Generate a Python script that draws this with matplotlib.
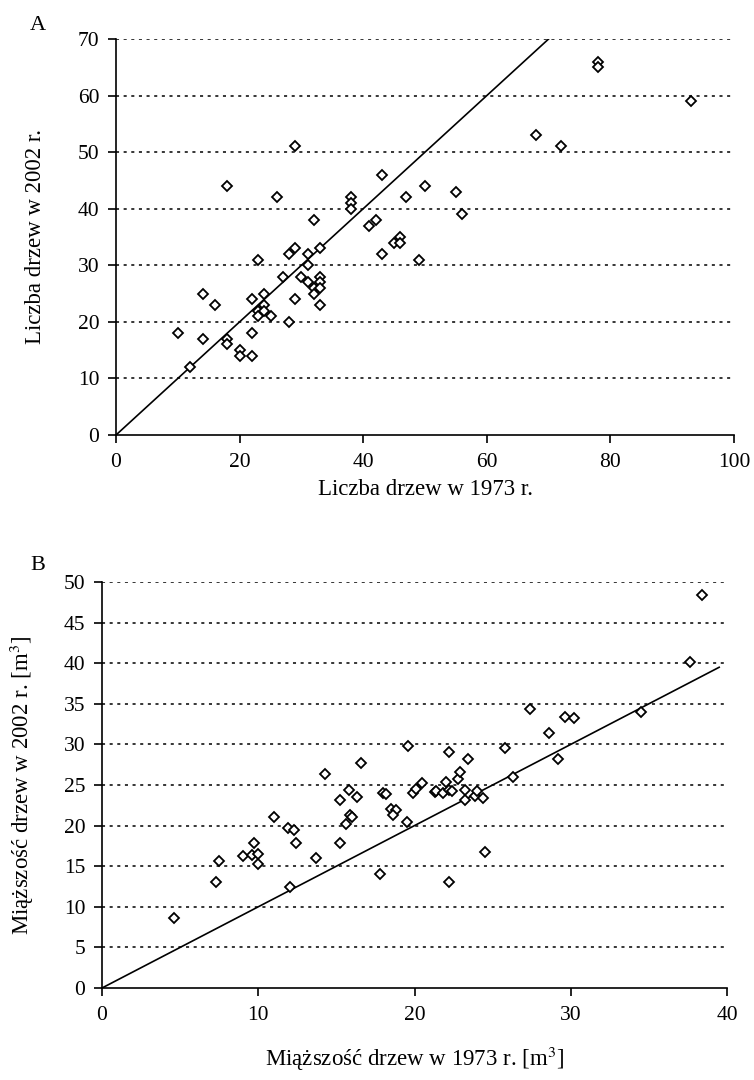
import matplotlib.pyplot as plt

plt.rcParams['font.family'] = ['Liberation Serif', 'DejaVu Serif']
plt.rcParams['mathtext.fontset'] = 'stix'

# Panel A: number of trees
a_1973 = [10, 12, 14, 14, 16, 18, 18, 18, 20, 20, 22, 22, 22, 23, 23, 23, 24, 24, 24, 25,
          26, 27, 28, 28, 29, 29, 29, 30, 31, 31, 31, 32, 32, 32, 33, 33, 33, 33, 33,
          38, 38, 38, 41, 42, 43, 43, 45, 46, 46, 47, 49, 50, 55, 56, 68, 72, 78, 78, 93]
a_2002 = [18, 12, 25, 17, 23, 44, 17, 16, 15, 14, 24, 18, 14, 31, 22, 21, 25, 23, 22, 21,
          42, 28, 32, 20, 51, 33, 24, 28, 32, 30, 27, 38, 26, 25, 33, 28, 27, 26, 23,
          42, 41, 40, 37, 38, 46, 32, 34, 35, 34, 42, 31, 44, 43, 39, 53, 51, 66, 65, 59]

# Panel B: tree volume [m3]
b_1973 = [4.6, 7.3, 7.5, 9.0, 9.7, 9.6, 10.0, 10.0, 11.0, 11.9, 12.3, 12.4, 12.0, 13.7,
          15.2, 15.2, 15.6, 15.9, 16.0, 15.8, 16.3, 16.6, 14.3, 17.8, 18.0, 18.2, 18.5,
          18.8, 18.6, 19.5, 19.6, 19.9, 20.1, 20.5, 21.3, 21.4, 21.8, 22.0, 22.2, 22.4,
          22.2, 22.2, 22.8, 22.9, 23.2, 23.2, 23.4, 23.9, 24.0, 24.4, 24.5, 25.8, 26.3,
          27.4, 28.6, 29.2, 29.6, 30.2, 34.5, 37.6, 38.4]
b_2002 = [8.6, 13.0, 15.6, 16.3, 17.9, 16.4, 16.5, 15.3, 21.0, 19.7, 19.5, 17.9, 12.4, 16.0,
          23.2, 17.8, 20.2, 21.3, 21.0, 24.4, 23.5, 27.7, 26.3, 14.1, 24.0, 23.9, 22.1,
          21.9, 21.3, 20.4, 29.8, 24.0, 24.5, 25.2, 24.1, 24.3, 24.0, 25.4, 24.4, 24.2,
          29.1, 13.0, 25.8, 26.6, 24.4, 23.1, 28.2, 23.6, 24.3, 23.4, 16.8, 29.6, 26.0,
          34.3, 31.4, 28.2, 33.4, 33.3, 34.0, 40.1, 48.4]

a_line = [0, 70]
b_line = [0, 39.5]

W, H = 754, 1080
fig = plt.figure(figsize=(W / 100, H / 100), dpi=100)


def style(ax, xmax, ymax, xstep, ystep):
    ax.set_xlim(0, xmax)
    ax.set_ylim(0, ymax)
    ax.set_xticks(range(0, xmax + 1, xstep))
    ax.set_yticks(range(0, ymax + 1, ystep))
    for s in ['top', 'right']:
        ax.spines[s].set_visible(False)
    for s in ['left', 'bottom']:
        ax.spines[s].set_linewidth(1.2)
    ax.tick_params(direction='out', length=6, width=1.2, labelsize=15.5, pad=6)
    ax.tick_params(axis='x', pad=7)
    for yv in range(ystep, ymax + 1, ystep):
        ax.axhline(yv, color='black', lw=1.1, ls=(0, (2, 3)), zorder=0)


def panel(rect):
    l, t, r, b = rect
    return fig.add_axes([l / W, 1 - b / H, (r - l) / W, (b - t) / H])


# Panel A
axA = panel((116, 39, 734, 435))
style(axA, 100, 70, 20, 10)
axA.plot(a_line, a_line, color='black', lw=1.2, zorder=2)
axA.plot(a_1973, a_2002, ls='none', marker='D', ms=5.5, mfc='white', mec='black',
         mew=1.3, zorder=3, clip_on=False)
axA.set_xlabel('Liczba drzew w 1973 r.', fontsize=16.5, labelpad=5)
axA.set_ylabel('Liczba drzew w 2002 r.', fontsize=16.5)
axA.yaxis.set_label_coords(-(116 - 46) / 618, 0.5)
fig.text(30 / W, 1 - 25 / H, 'A', fontsize=16, va='center')

# Panel B
axB = panel((102, 582, 727, 988))
style(axB, 40, 50, 10, 5)
axB.plot(b_line, b_line, color='black', lw=1.2, zorder=2)
axB.plot(b_1973, b_2002, ls='none', marker='D', ms=5.5, mfc='white', mec='black',
         mew=1.3, zorder=3, clip_on=False)
axB.set_xlabel(r'Miąższość drzew w 1973 r. [m$^3$]', fontsize=16.5, labelpad=14)
axB.set_ylabel(r'Miąższość drzew w 2002 r. [m$^3$]', fontsize=16.5)
axB.yaxis.set_label_coords(-(102 - 36) / 625, 0.5)
fig.text(30 / W, 1 - 565 / H, 'B', fontsize=16, va='center')

fig.savefig('out.png', dpi=100)
